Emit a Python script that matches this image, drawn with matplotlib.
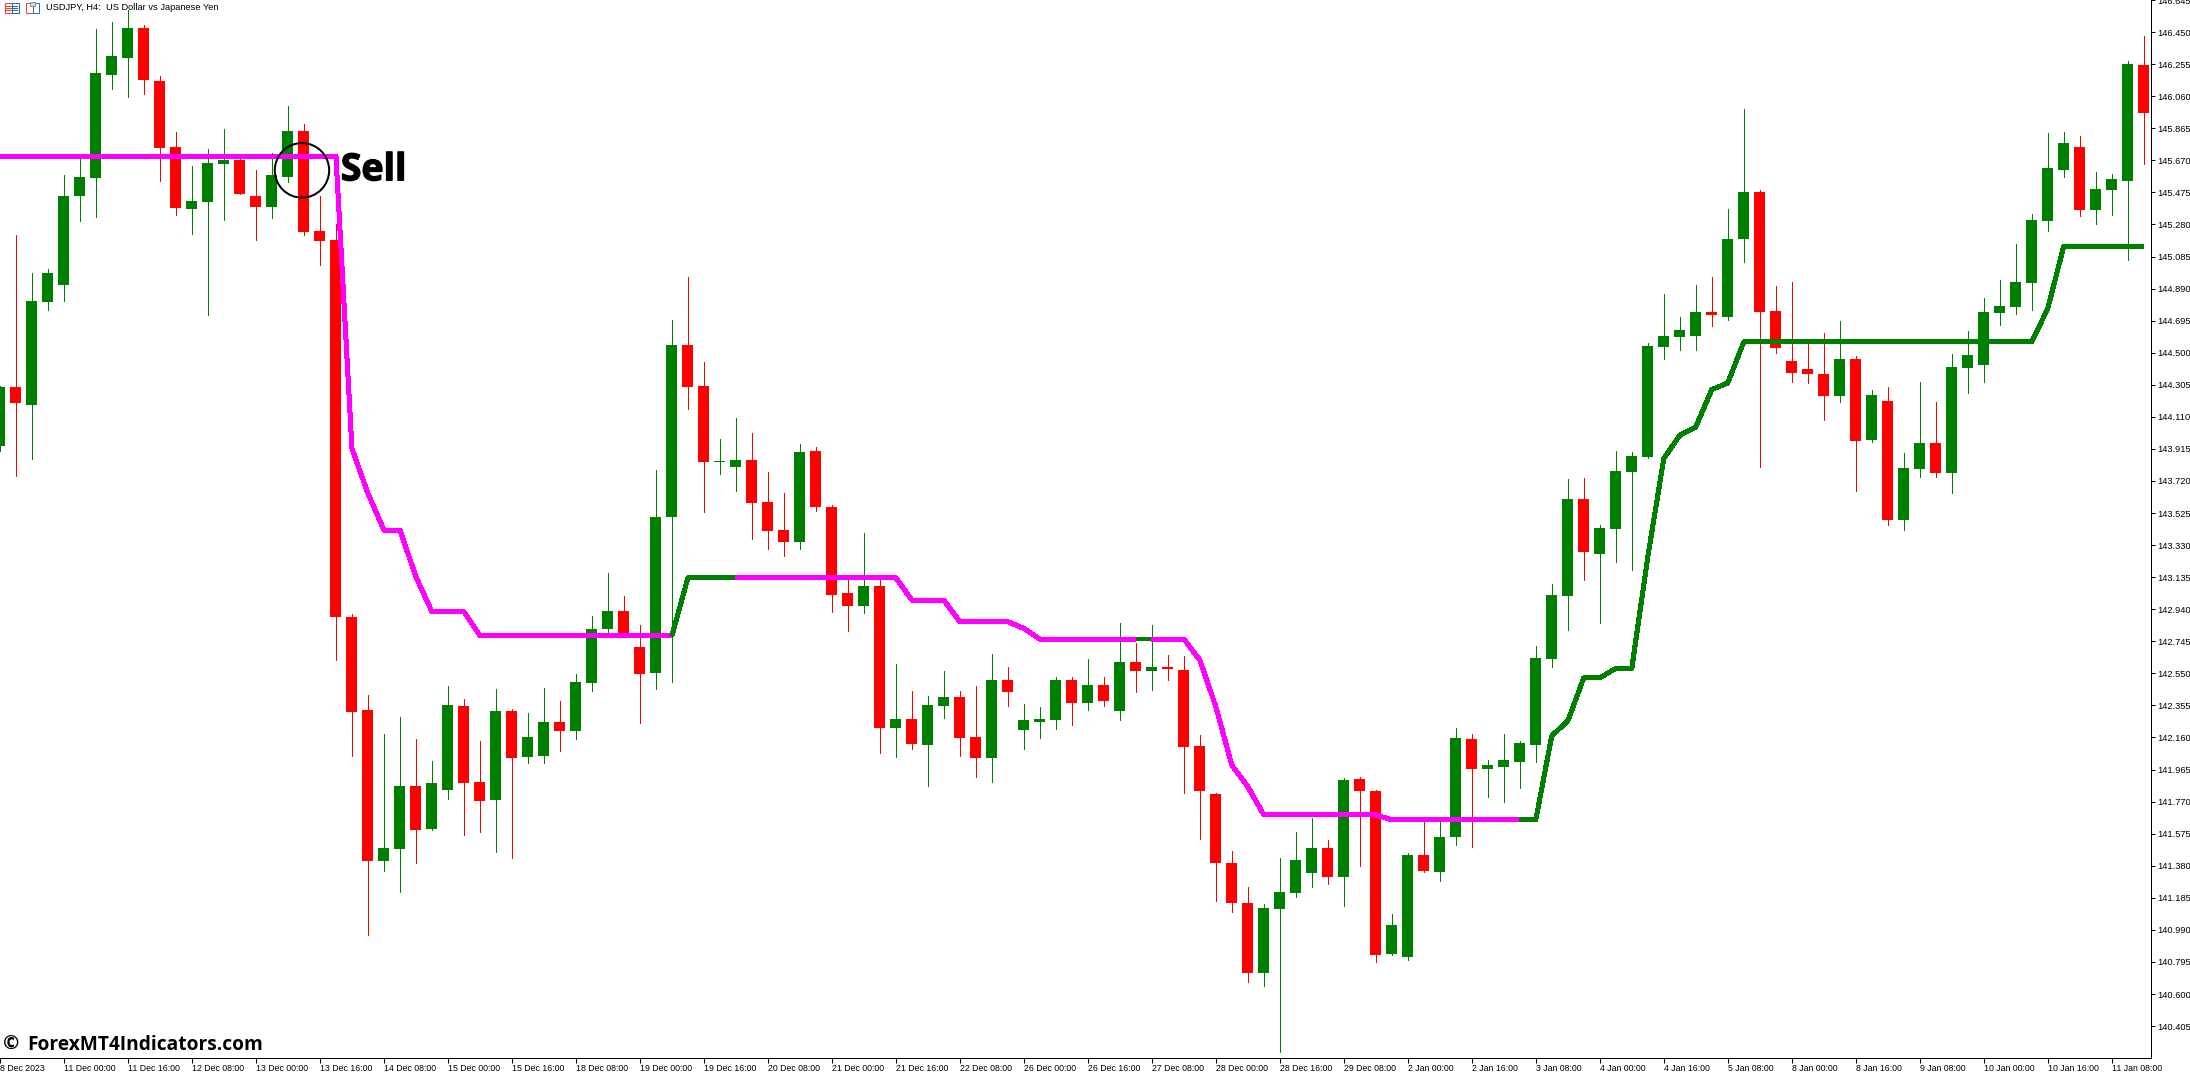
import matplotlib
matplotlib.use('Agg')
import matplotlib.pyplot as plt
import matplotlib.patheffects as pe
from matplotlib.patches import Ellipse, Rectangle

# USDJPY H4 candles, one value per bar
opens = [143.931, 144.290, 144.183, 144.807, 144.911, 145.451, 145.560, 146.186, 146.290, 146.472,
         146.150, 145.749, 145.372, 145.415, 145.645, 145.670, 145.451, 145.384, 145.566, 145.846,
         145.238, 145.183, 142.892, 142.326, 141.409, 141.482, 141.864, 141.603, 141.840, 142.351,
         141.889, 141.779, 142.320, 142.041, 142.047, 142.253, 142.199, 142.491, 142.819, 142.928,
         142.710, 142.552, 143.500, 144.545, 144.296, 143.834, 143.804, 143.846, 143.591, 143.421,
         143.348, 143.901, 143.561, 143.038, 142.959, 143.081, 142.217, 142.272, 142.114, 142.351,
         142.405, 142.162, 142.035, 142.509, 142.205, 142.253, 142.266, 142.509, 142.369, 142.479,
         142.320, 142.618, 142.564, 142.588, 142.570, 142.108, 141.816, 141.397, 141.153, 140.728,
         141.117, 141.214, 141.336, 141.488, 141.312, 141.907, 141.834, 140.844, 140.826, 141.446,
         141.342, 141.555, 142.151, 141.968, 141.980, 142.011, 142.114, 142.636, 143.019, 143.609,
         143.275, 143.427, 143.773, 143.865, 144.533, 144.594, 144.600, 144.746, 144.716, 145.189,
         145.475, 144.752, 144.448, 144.400, 144.369, 144.236, 144.460, 143.968, 144.205, 143.482,
         143.792, 143.950, 143.767, 144.406, 144.424, 144.740, 144.776, 144.922, 145.299, 145.609,
         145.749, 145.366, 145.488, 145.542, 146.247]
highs = [144.300, 145.214, 144.984, 145.008, 145.578, 145.676, 146.466, 146.509, 146.582, 146.491,
         146.180, 145.840, 145.633, 145.737, 145.858, 145.700, 145.609, 145.712, 145.999, 145.889,
         145.451, 145.281, 142.910, 142.418, 142.181, 142.284, 142.151, 142.017, 142.472, 142.393,
         142.138, 142.454, 142.332, 142.308, 142.460, 142.381, 142.545, 142.898, 143.160, 143.019,
         142.844, 143.786, 144.697, 144.959, 144.442, 143.974, 144.102, 144.010, 143.773, 143.646,
         143.944, 143.925, 143.573, 143.127, 143.403, 143.127, 142.606, 142.442, 142.412, 142.564,
         142.442, 142.472, 142.667, 142.588, 142.363, 142.345, 142.527, 142.527, 142.636, 142.527,
         142.856, 142.734, 142.844, 142.661, 142.655, 142.175, 141.820, 141.470, 141.250, 141.147,
         141.427, 141.585, 141.670, 141.537, 141.913, 141.919, 141.840, 141.087, 141.458, 141.676,
         141.676, 142.217, 142.181, 142.023, 142.181, 142.138, 142.716, 143.092, 143.731, 143.737,
         143.451, 143.901, 143.895, 144.557, 144.855, 144.716, 144.911, 144.959, 145.372, 145.980,
         145.488, 144.904, 144.928, 144.552, 144.618, 144.691, 144.478, 144.272, 144.290, 143.889,
         144.320, 144.199, 144.491, 144.630, 144.831, 144.940, 145.159, 145.342, 145.834, 145.840,
         145.816, 145.597, 145.585, 146.272, 146.424]
lows = [143.900, 143.749, 143.852, 144.758, 144.813, 145.299, 145.324, 146.101, 146.053, 146.071,
        145.542, 145.336, 145.220, 144.728, 145.305, 145.463, 145.183, 145.318, 145.536, 145.214,
        145.032, 142.631, 142.047, 140.959, 141.348, 141.220, 141.397, 141.597, 141.785, 141.567,
        141.585, 141.464, 141.427, 142.004, 142.004, 142.078, 142.151, 142.442, 142.795, 142.780,
        142.247, 142.454, 142.497, 144.156, 143.530, 143.761, 143.658, 143.366, 143.305, 143.263,
        143.305, 143.536, 142.922, 142.807, 142.916, 142.065, 142.041, 142.090, 141.864, 142.278,
        142.047, 141.919, 141.889, 142.351, 142.090, 142.156, 142.211, 142.235, 142.326, 142.351,
        142.266, 142.436, 142.448, 142.509, 141.822, 141.542, 141.165, 141.098, 140.673, 140.649,
        140.247, 141.190, 141.250, 141.269, 141.135, 141.378, 140.795, 140.840, 140.807, 141.342,
        141.287, 141.506, 141.494, 141.798, 141.767, 141.853, 142.011, 142.588, 142.813, 143.117,
        142.856, 143.226, 143.178, 143.860, 144.460, 144.515, 144.515, 144.661, 144.697, 145.050,
        143.804, 144.497, 144.320, 144.314, 144.090, 144.199, 143.658, 143.956, 143.451, 143.421,
        143.743, 143.743, 143.646, 144.254, 144.320, 144.667, 144.734, 144.758, 145.238, 145.566,
        145.330, 145.281, 145.336, 145.062, 145.646]
closes = [144.290, 144.195, 144.813, 144.984, 145.451, 145.566, 146.199, 146.302, 146.472, 146.156,
          145.743, 145.378, 145.421, 145.652, 145.670, 145.463, 145.384, 145.578, 145.846, 145.232,
          145.177, 142.892, 142.314, 141.409, 141.488, 141.864, 141.597, 141.883, 142.357, 141.883,
          141.773, 142.320, 142.035, 142.162, 142.253, 142.199, 142.497, 142.819, 142.928, 142.783,
          142.545, 143.500, 144.545, 144.290, 143.834, 143.840, 143.846, 143.585, 143.415, 143.348,
          143.895, 143.561, 143.026, 142.959, 143.081, 142.217, 142.272, 142.120, 142.357, 142.405,
          142.156, 142.035, 142.509, 142.436, 142.266, 142.272, 142.509, 142.369, 142.479, 142.381,
          142.618, 142.564, 142.588, 142.576, 142.102, 141.834, 141.397, 141.153, 140.728, 141.123,
          141.220, 141.415, 141.488, 141.312, 141.901, 141.834, 140.838, 141.020, 141.446, 141.348,
          141.555, 142.156, 141.968, 141.992, 142.023, 142.126, 142.643, 143.026, 143.609, 143.287,
          143.433, 143.779, 143.871, 144.539, 144.600, 144.636, 144.746, 144.728, 145.189, 145.475,
          144.746, 144.527, 144.375, 144.369, 144.236, 144.460, 143.962, 144.242, 143.482, 143.798,
          143.950, 143.767, 144.412, 144.485, 144.746, 144.782, 144.928, 145.305, 145.621, 145.773,
          145.366, 145.494, 145.554, 146.253, 145.956]

# indicator line, one value per bar
trend = [145.696, 145.696, 145.696, 145.696, 145.696, 145.696, 145.696, 145.696, 145.696, 145.696,
         145.696, 145.696, 145.696, 145.696, 145.696, 145.696, 145.696, 145.696, 145.696, 145.696,
         145.696, 145.696, 143.917, 143.644, 143.421, 143.421, 143.137, 142.925, 142.925, 142.925,
         142.779, 142.779, 142.779, 142.779, 142.779, 142.779, 142.779, 142.779, 142.779, 142.779,
         142.779, 142.779, 142.779, 143.131, 143.131, 143.131, 143.131, 143.131, 143.131, 143.131,
         143.131, 143.131, 143.131, 143.131, 143.131, 143.131, 143.131, 142.995, 142.995, 142.995,
         142.864, 142.864, 142.864, 142.864, 142.823, 142.758, 142.758, 142.758, 142.758, 142.758,
         142.758, 142.758, 142.758, 142.758, 142.758, 142.631, 142.347, 141.992, 141.861, 141.689,
         141.689, 141.689, 141.689, 141.689, 141.689, 141.689, 141.689, 141.659, 141.659, 141.659,
         141.659, 141.659, 141.659, 141.659, 141.659, 141.659, 141.659, 142.171, 142.260, 142.523,
         142.523, 142.580, 142.580, 143.259, 143.856, 143.998, 144.049, 144.276, 144.316, 144.566,
         144.566, 144.566, 144.566, 144.566, 144.566, 144.566, 144.566, 144.566, 144.566, 144.566,
         144.566, 144.566, 144.566, 144.566, 144.566, 144.566, 144.566, 144.566, 144.768, 145.147,
         145.147, 145.147, 145.147, 145.147, 145.147]
# bar index where the line changes colour, and the colour from there on
trend_breaks = [0, 42, 46, 71, 72, 95, 134]
trend_colors = ['#ff00ff', '#008000', '#ff00ff', '#008000', '#ff00ff', '#008000']

price_ticks = [146.645, 146.450, 146.255, 146.060, 145.865, 145.670, 145.475, 145.280, 145.085,
               144.890, 144.695, 144.500, 144.305, 144.110, 143.915, 143.720, 143.525, 143.330,
               143.135, 142.940, 142.745, 142.550, 142.355, 142.160, 141.965, 141.770, 141.575,
               141.380, 141.185, 140.990, 140.795, 140.600, 140.405]
time_labels = ['8 Dec 2023', '11 Dec 00:00', '11 Dec 16:00', '12 Dec 08:00', '13 Dec 00:00',
               '13 Dec 16:00', '14 Dec 08:00', '15 Dec 00:00', '15 Dec 16:00', '18 Dec 08:00',
               '19 Dec 00:00', '19 Dec 16:00', '20 Dec 08:00', '21 Dec 00:00', '21 Dec 16:00',
               '22 Dec 08:00', '26 Dec 00:00', '26 Dec 16:00', '27 Dec 08:00', '28 Dec 00:00',
               '28 Dec 16:00', '29 Dec 08:00', '2 Jan 00:00', '2 Jan 16:00', '3 Jan 08:00',
               '4 Jan 00:00', '4 Jan 16:00', '5 Jan 08:00', '8 Jan 00:00', '8 Jan 16:00',
               '9 Jan 08:00', '10 Jan 00:00', '10 Jan 16:00', '11 Jan 08:00']

GREEN = '#008000'
RED = '#ff0000'
LABEL_FONT = 'Liberation Sans'
PX = 72 / 100

W, H = 2190, 1073
AX_W, AX_H = 2151.4, 1058.3

fig = plt.figure(figsize=(W / 100, H / 100), dpi=100, facecolor='white')
ax = fig.add_axes([0, 1 - AX_H / H, AX_W / W, AX_H / H])

bars = list(range(len(opens)))
for i in bars:
    color = GREEN if closes[i] >= opens[i] else RED
    ax.vlines(i, lows[i], highs[i], color=color, linewidth=1 * PX, antialiased=False, zorder=2)
    bottom = min(opens[i], closes[i])
    ax.bar(i, abs(closes[i] - opens[i]), bottom=bottom, width=0.6875, color=color,
           linewidth=0, antialiased=False, zorder=3)

for k, color in enumerate(trend_colors):
    a, b = trend_breaks[k], trend_breaks[k + 1]
    ax.plot(bars[a:b + 1], trend[a:b + 1], color=color, linewidth=4 * PX,
            solid_capstyle='butt', solid_joinstyle='round', antialiased=False, zorder=4)

# sell marker
ax.add_patch(Ellipse((18.875, 145.609), 3.4, 0.332, fill=False, edgecolor='black',
                     linewidth=2 * PX, zorder=5))
ax.text(21.3, 145.609, 'Sell', family='Open Sans', fontweight='bold', fontsize=27,
        color='black', va='center', ha='left', zorder=6,
        path_effects=[pe.withStroke(linewidth=0.9, foreground='black')])

ax.set_xlim(0.019, 134.48)
ax.set_ylim(140.209, 146.6425)

for side in ['top', 'left']:
    ax.spines[side].set_visible(False)
for side in ['bottom', 'right']:
    ax.spines[side].set_linewidth(1 * PX)

ax.yaxis.tick_right()
ax.set_yticks(price_ticks)
ax.set_yticklabels(['%.3f' % p for p in price_ticks], family=LABEL_FONT, fontsize=6.7)
ax.tick_params(axis='y', length=4 * PX, width=1 * PX, pad=2 * PX)

ax.set_xticks(bars[0::4])
ax.set_xticklabels(time_labels, family=LABEL_FONT, fontsize=6.3, ha='left')
ax.tick_params(axis='x', length=4.5 * PX, width=1 * PX, pad=1.5 * PX)

# title row and watermark, placed in picture pixels
over = fig.add_axes([0, 0, 1, 1], facecolor='none')
over.set_xlim(0, W)
over.set_ylim(H, 0)
over.axis('off')

over.text(45.5, 7.5, 'USDJPY, H4:  US Dollar vs Japanese Yen', family=LABEL_FONT, fontsize=6.7,
          va='center', ha='left')
over.text(3, 1045, '\u00a9', family='Open Sans', fontweight='bold', fontsize=14,
          va='center', ha='left')
over.text(27, 1045, 'ForexMT4Indicators.com', family='Open Sans', fontweight='bold', fontsize=13.8,
          va='center', ha='left')

# the two toolbar icons
over.add_patch(Rectangle((4.5, 3), 7, 9.5, fill=False, edgecolor='#e8443a', linewidth=1 * PX))
over.add_patch(Rectangle((11.5, 3), 7, 9.5, fill=False, edgecolor='#1f6fb5', linewidth=1 * PX))
for row in [5.5, 7.5, 9.5]:
    over.plot([6, 11], [row, row], color='#e8443a', linewidth=1 * PX)
    over.plot([12, 17], [row, row], color='#1f6fb5', linewidth=1 * PX)
over.add_patch(Rectangle((25.5, 3), 7, 9.5, fill=False, edgecolor='#e8443a', linewidth=1 * PX))
over.add_patch(Rectangle((32.5, 3), 6.5, 9.5, fill=False, edgecolor='#1f6fb5', linewidth=1 * PX))
over.add_patch(Rectangle((29.5, 2), 5, 3.5, facecolor='#d9d9d9', edgecolor='#8a8a8a',
                         linewidth=1 * PX))

fig.savefig('out.png', dpi=100)
